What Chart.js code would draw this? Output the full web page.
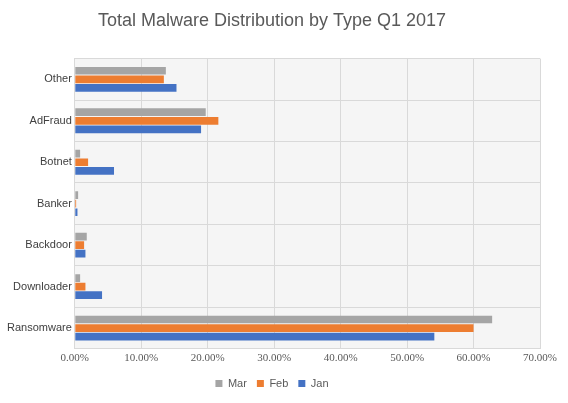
<!DOCTYPE html>
<html><head><meta charset="utf-8">
<script src="https://cdn.jsdelivr.net/npm/chart.js@4"></script>
<style>html,body{margin:0;padding:0;background:#fff}#w{width:568px;height:403px}</style>
</head><body><div id="w"><canvas id="c"></canvas></div>
<script>
const categories = ["Other","AdFraud","Botnet","Banker","Backdoor","Downloader","Ransomware"];
const mar = [13.7,19.7,0.8,0.5,1.8,0.8,62.8];
const feb = [13.4,21.6,2.0,0.2,1.4,1.6,60.0];
const jan = [15.3,19.0,5.9,0.4,1.6,4.1,54.1];
const plotBg = {id:'pbg',beforeDraw(ch){const a=ch.chartArea,c=ch.ctx;c.save();c.fillStyle='#f5f5f5';c.fillRect(a.left,a.top,a.right-a.left,a.bottom-a.top);c.restore();}};
new Chart(document.getElementById('c'),{
type:'bar',
data:{labels:categories,datasets:[
{label:'Mar',data:mar,backgroundColor:'#a5a5a5'},
{label:'Feb',data:feb,backgroundColor:'#ed7d31'},
{label:'Jan',data:jan,backgroundColor:'#4472c4'}]},
options:{indexAxis:'y',responsive:true,maintainAspectRatio:false,animation:false,
layout:{padding:{left:4,right:28,top:4,bottom:4}},
datasets:{bar:{categoryPercentage:0.62,barPercentage:0.9}},
plugins:{title:{display:true,text:'Total Malware Distribution by Type Q1 2017',color:'#595959',font:{family:'Liberation Sans',size:18,weight:'normal'},padding:{top:6,bottom:27}},
legend:{position:'bottom',labels:{boxWidth:7,boxHeight:7,color:'#595959',font:{family:'Liberation Sans',size:11}}},tooltip:{enabled:false}},
scales:{x:{min:0,max:70,ticks:{stepSize:10,color:'#595959',font:{family:'Liberation Serif',size:11},callback:v=>v.toFixed(2)+'%'},grid:{color:'#d9d9d9',drawTicks:false},border:{display:false}},
y:{ticks:{color:'#404040',font:{family:'Liberation Sans',size:11}},grid:{color:'#d9d9d9',offset:true,drawTicks:false},border:{color:'#d9d9d9'}}}},
plugins:[plotBg]});
</script></body></html>
